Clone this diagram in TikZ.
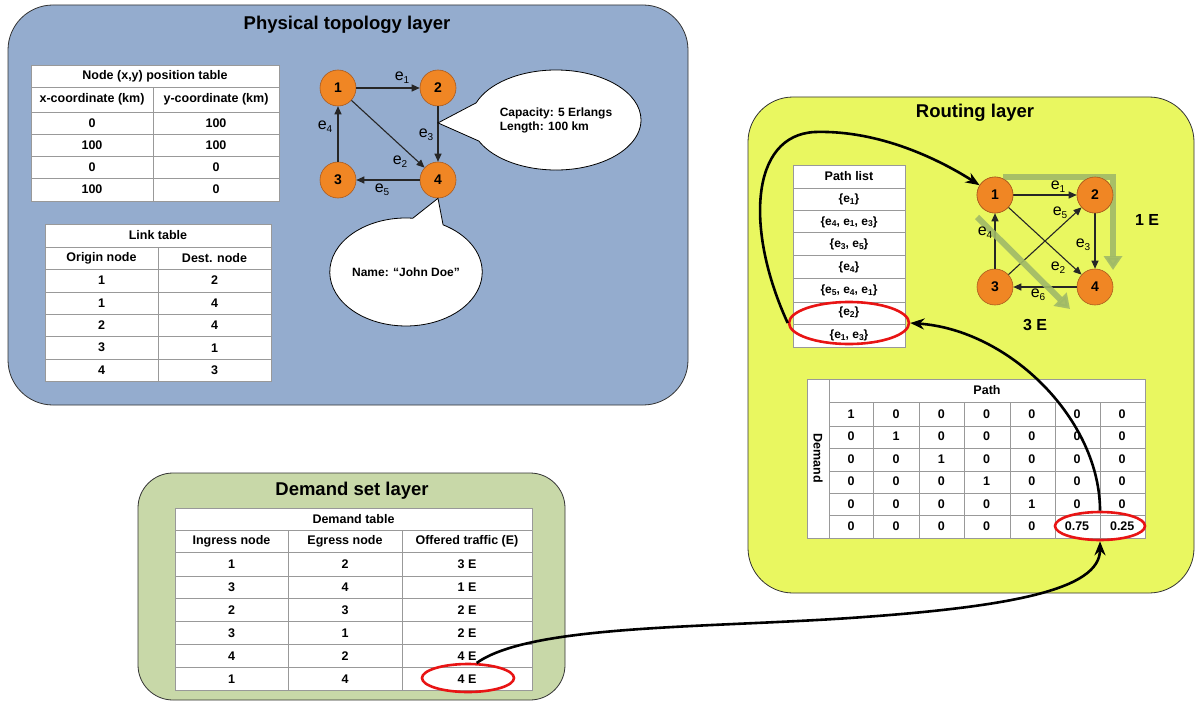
\documentclass[tikz,border=0pt]{standalone}
\usepackage{fontspec}
\setmainfont{Liberation Sans}
\usetikzlibrary{shapes.callouts,shapes.geometric,arrows.meta}
\definecolor{physblue}{RGB}{148,172,206}
\definecolor{routyellow}{RGB}{233,247,96}
\definecolor{demgreen}{RGB}{200,216,168}
\definecolor{nodeorange}{RGB}{240,134,36}
\definecolor{nodeedge}{RGB}{170,90,30}
\definecolor{grnarrow}{RGB}{160,186,104}
\definecolor{redell}{RGB}{232,20,20}
\newcommand{\elab}[1]{e\raisebox{-0.35ex}{\fontsize{10}{10}\selectfont #1}}
\newcommand{\pe}[1]{e\raisebox{-0.3ex}{\fontsize{8.5}{8.5}\selectfont #1}}
\begin{document}
\begin{tikzpicture}[x=1pt,y=-1pt,
  layer/.style={draw=black!80, line width=0.8pt, rounded corners=45pt},
  ltitle/.style={font=\fontsize{18.5}{20}\selectfont\bfseries, inner sep=0pt},
  tbl/.style={draw=black!40, line width=0.9pt},
  tt/.style={font=\fontsize{12.5}{15}\selectfont\bfseries, inner sep=0pt},
  pt/.style={font=\fontsize{12}{14}\selectfont\bfseries, inner sep=0pt},
  gnode/.style={circle, fill=nodeorange, draw=nodeedge, line width=0.6pt, minimum size=36pt, inner sep=0pt, font=\fontsize{14}{14}\selectfont\bfseries},
  gedge/.style={draw=black!85, line width=1.1pt, -{Triangle[length=8pt,width=7pt]}},
  elb/.style={font=\fontsize{16}{16}\selectfont, inner sep=0pt},
  blk/.style={draw=black, line width=2.6pt, -{Stealth[length=14pt,width=11pt]}},
  rell/.style={ellipse, draw=redell, line width=2.6pt, inner sep=0pt},
  grn/.style={draw=grnarrow, line width=6pt, -{Triangle[length=14pt,width=18pt]}, opacity=0.9},
  callbox/.style={draw=black, fill=white, line width=0.8pt, font=\fontsize{12}{14}\selectfont\bfseries, inner sep=0pt, align=left}
]
\useasboundingbox (0,0) rectangle (1196,706);
\fill[white] (0,0) rectangle (1196,706);

% ---------- layers ----------
\draw[layer, fill=physblue] (8,5) rectangle (688,405);
\node[ltitle] (t-phys) at (347,25) {Physical topology layer};
\draw[layer, fill=routyellow] (748,97) rectangle (1194,593);
\node[ltitle] (t-rout) at (975,113) {Routing layer};
\draw[layer, fill=demgreen, rounded corners=35pt] (138,473) rectangle (565,700);
\node[ltitle] (t-dem) at (352,491) {Demand set layer};

% ---------- node position table ----------
\fill[white] (31,65) rectangle (279,201);
\draw[tbl] (31,65) rectangle (279,201);
\foreach \y in {87,112,134,156,178} \draw[tbl] (31,\y) -- (279,\y);
\draw[tbl] (153,87) -- (153,201);
\node[tt] (np-title) at (155,76) {Node (x,y) position table};
\node[tt] (np-h1) at (92,99.5) {x-coordinate (km)};
\node[tt] (np-h2) at (216,99.5) {y-coordinate (km)};
\foreach \a/\b [count=\r] in {0/100,100/100,0/0,100/0} {
  \node[tt] (np-\r-1) at (92,{100.8+22.2*\r}) {\a};
  \node[tt] (np-\r-2) at (216,{100.8+22.2*\r}) {\b};
}

% ---------- link table ----------
\fill[white] (45,224) rectangle (271,381);
\draw[tbl] (45,224) rectangle (271,381);
\foreach \y in {247,269,292,314,336,359} \draw[tbl] (45,\y) -- (271,\y);
\draw[tbl] (158,247) -- (158,381);
\node[tt] (lt-title) at (158,235.5) {Link table};
\node[tt] (lt-h1) at (101.5,258) {Origin node};
\node[tt] (lt-h2) at (214.5,258) {Dest. node};
\foreach \a/\b [count=\r] in {1/2,1/4,2/4,3/1,4/3} {
  \node[tt] (lt-\r-1) at (101.5,{258.1+22.4*\r}) {\a};
  \node[tt] (lt-\r-2) at (214.5,{258.1+22.4*\r}) {\b};
}

% ---------- physical graph ----------
\node[gnode] (p1) at (338,88) {1};
\node[gnode] (p2) at (438,88) {2};
\node[gnode] (p3) at (338,180) {3};
\node[gnode] (p4) at (438,180) {4};
\draw[gedge] (p1) -- (p2);
\draw[gedge] (p1) -- (p4);
\draw[gedge] (p2) -- coordinate[pos=0.3] (cap) (p4);
\draw[gedge] (p3) -- (p1);
\draw[gedge] (p4) -- (p3);
\node[elb] (pl1) at (402,78) {\elab{1}};
\node[elb] (pl2) at (400,162) {\elab{2}};
\node[elb] (pl3) at (426,135) {\elab{3}};
\node[elb] (pl4) at (325,127) {\elab{4}};
\node[elb] (pl5) at (382,190) {\elab{5}};
\node[callbox, ellipse callout, minimum width=170pt, minimum height=100pt,
      callout absolute pointer={(cap)}, callout pointer arc=45] (c-cap) at (556,120)
      {Capacity: 5 Erlangs\\Length: 100 km};
\node[callbox, ellipse callout, minimum width=152pt, minimum height=108pt,
      callout absolute pointer={(p4.south)}, callout pointer arc=24] (c-name) at (406,272)
      {Name: “John Doe”};

% ---------- demand table ----------
\fill[white] (175,508) rectangle (532,690);
\draw[tbl] (175,508) rectangle (532,690);
\foreach \y in {530,552,576,598,621,644,667} \draw[tbl] (175,\y) -- (532,\y);
\draw[tbl] (288,530) -- (288,690);
\draw[tbl] (402,530) -- (402,690);
\node[tt] (dt-title) at (353.5,519) {Demand table};
\node[tt] (dt-h1) at (231.5,541) {Ingress node};
\node[tt] (dt-h2) at (345,541) {Egress node};
\node[tt] (dt-h3) at (467,541) {Offered traffic (E)};
\foreach \a/\b/\c [count=\r] in {1/2/3 E,3/4/1 E,2/3/2 E,3/1/2 E,4/2/4 E,1/4/4 E} {
  \node[tt] (dt-\r-1) at (231.5,{541+23*\r}) {\a};
  \node[tt] (dt-\r-2) at (345,{541+23*\r}) {\b};
  \node[tt] (dt-\r-3) at (467,{541+23*\r}) {\c};
}

% ---------- path list ----------
\fill[white] (793,165) rectangle (905,347);
\draw[tbl] (793,165) rectangle (905,347);
\foreach \y in {188,210,232,255,278,302,324} \draw[tbl] (793,\y) -- (905,\y);
\node[tt] (pl-title) at (849,176.5) {Path list};
\foreach \t [count=\r] in {{\{\pe{1}\}},{\{\pe{4}, \pe{1}, \pe{3}\}},{\{\pe{3}, \pe{5}\}},{\{\pe{4}\}},{\{\pe{5}, \pe{4}, \pe{1}\}},{\{\pe{2}\}},{\{\pe{1}, \pe{3}\}}} {
  \node[pt] (pl-\r) at (849,{176.5+22.7*\r}) {\t};
}

% ---------- routing graph ----------
\coordinate (ga1) at (1003,177);
\coordinate (ga2) at (1113,177);
\coordinate (ga3) at (1113,270);
\coordinate (gb1) at (977,217);
\coordinate (gb2) at (1070,309);
\node[gnode] (q1) at (995,195) {1};
\node[gnode] (q2) at (1095,195) {2};
\node[gnode] (q3) at (995,287) {3};
\node[gnode] (q4) at (1095,287) {4};
\draw[gedge] (q1) -- (q2);
\draw[gedge] (q1) -- (q4);
\draw[gedge] (q2) -- (q4);
\draw[gedge] (q3) -- (q1);
\draw[gedge] (q3) -- (q2);
\draw[gedge] (q4) -- (q3);
\draw[grn] (ga1) -- (ga2) -- (ga3);
\draw[grn] (gb1) -- (gb2);
\node[gnode] at (q1) {1};
\node[gnode] at (q2) {2};
\node[elb] (ql1) at (1058,187) {\elab{1}};
\node[elb] (ql5) at (1060,213) {\elab{5}};
\node[elb] (ql4) at (985,233) {\elab{4}};
\node[elb] (ql3) at (1083,245) {\elab{3}};
\node[elb] (ql2) at (1058,268) {\elab{2}};
\node[elb] (ql6) at (1038,295) {\elab{6}};
\node[font=\fontsize{16}{16}\selectfont\bfseries, inner sep=0pt] (l1e) at (1147,220) {1 E};
\node[font=\fontsize{16}{16}\selectfont\bfseries, inner sep=0pt] (l3e) at (1035,325) {3 E};

% ---------- matrix ----------
\fill[white] (807,379) rectangle (1145,538);
\draw[tbl] (807,379) rectangle (1145,538);
\draw[tbl] (829,379) -- (829,538);
\foreach \y in {402,426,448,471,493,515} \draw[tbl] (829,\y) -- (1145,\y);
\foreach \x in {873,919,964,1010,1055,1100} \draw[tbl] (\x,402) -- (\x,538);
\node[tt] (m-path) at (987,390.5) {Path};
\node[tt, rotate=-90] (m-dem) at (818,458) {Demand};
\foreach \row [count=\r] in {{1,0,0,0,0,0,0},{0,1,0,0,0,0,0},{0,0,1,0,0,0,0},{0,0,0,1,0,0,0},{0,0,0,0,1,0,0},{0,0,0,0,0,0.75,0.25}} {
  \foreach \v [count=\c] in \row {
    \node[tt] (m-\r-\c) at ({805.8+45.2*\c},{391.5+22.5*\r}) {\v};
  }
}

% ---------- red ellipses ----------
\node[rell, minimum width=92pt, minimum height=28pt] (r-dem) at (468,678) {};
\node[rell, minimum width=120pt, minimum height=42pt] (r-path) at (849,323) {};
\node[rell, minimum width=90pt, minimum height=28pt] (r-mat) at (1100,526) {};

% ---------- black curved arrows ----------
\draw[blk] (r-dem.60) .. controls (530,625) and (700,628) .. (850,618) .. controls (1010,607) and (1100,590) .. (r-mat.south);
\draw[blk] (r-mat.north) .. controls (1100,420) and (1010,330) .. (r-path.east);
\draw[blk] (r-path.west) .. controls (745,230) and (750,135) .. (815,132) .. controls (880,130) and (940,160) .. (q1);
\end{tikzpicture}
\end{document}
